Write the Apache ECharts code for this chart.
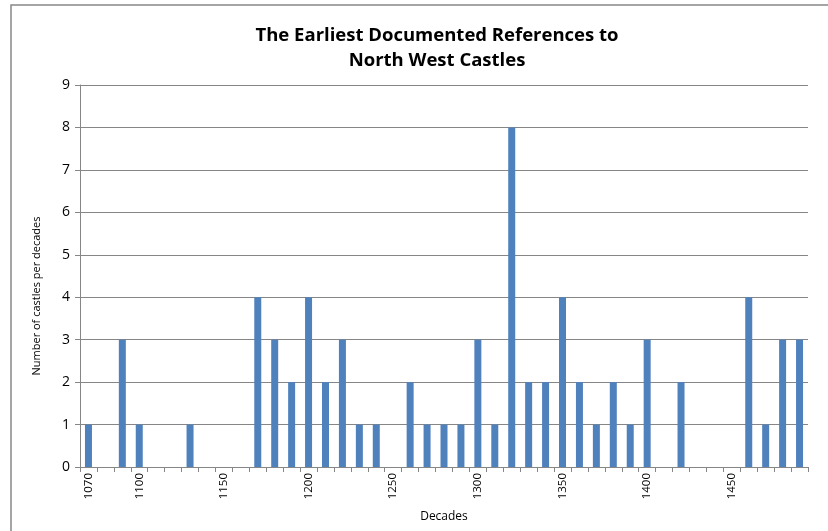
<!DOCTYPE html>
<html>
<head>
<meta charset="utf-8">
<script src="https://cdn.jsdelivr.net/npm/echarts@6/dist/echarts.min.js"></script>
<style>
html,body{margin:0;padding:0;background:#fff;}
#c{width:828px;height:531px;}
</style>
</head>
<body>
<div id="c"></div>
<script>
const decades = [1070,1080,1090,1100,1110,1120,1130,1140,1150,1160,1170,1180,1190,1200,1210,1220,1230,1240,1250,1260,1270,1280,1290,1300,1310,1320,1330,1340,1350,1360,1370,1380,1390,1400,1410,1420,1430,1440,1450,1460,1470,1480,1490];
const castles = [1,0,3,1,0,0,1,0,0,0,4,3,2,4,2,3,1,1,0,2,1,1,1,3,1,8,2,2,4,2,1,2,1,3,0,2,0,0,0,4,1,3,3];
const yTicks = [0,1,2,3,4,5,6,7,8,9];
const shownLabels = [1070,1100,1150,1200,1250,1300,1350,1400,1450];

const chart = echarts.init(document.getElementById('c'));
const FONT = '"Open Sans", "Noto Sans", sans-serif';
chart.setOption({
  animation: false,
  graphic: [{
    type: 'rect',
    shape: {x: 11, y: 5, width: 840, height: 560},
    style: {fill: 'none', stroke: '#888888', lineWidth: 1.5},
    silent: true
  }],
  title: {
    text: 'The Earliest Documented References to\nNorth West Castles',
    left: 432, top: 18, textAlign: 'center',
    textStyle: {fontFamily: FONT, fontWeight: 'bold', fontSize: 18.5, lineHeight: 25, color: '#000'}
  },
  grid: {left: 80, right: 20, top: 85, bottom: 64, containLabel: false},
  xAxis: {
    type: 'category',
    data: decades.map(String),
    name: 'Decades',
    nameLocation: 'middle',
    nameGap: 44,
    nameTextStyle: {fontFamily: FONT, fontSize: 12, color: '#000'},
    axisLine: {lineStyle: {color: '#868686', width: 1}},
    axisTick: {show: true, interval: 0, alignWithLabel: false, length: 5, lineStyle: {color: '#868686'}},
    axisLabel: {
      interval: (i, v) => shownLabels.includes(Number(v)),
      rotate: 90, fontFamily: FONT, fontSize: 11.5, color: '#000', margin: 6
    },
    splitLine: {show: false}
  },
  yAxis: {
    type: 'value',
    min: yTicks[0], max: yTicks[yTicks.length - 1], interval: 1,
    name: 'Number of castles per decades',
    nameLocation: 'middle',
    nameGap: 38,
    nameRotate: 90,
    nameTextStyle: {fontFamily: FONT, fontSize: 11, color: '#000', padding: [0, 0, 0, -40]},
    axisLine: {show: true, lineStyle: {color: '#868686', width: 1}},
    axisTick: {show: true, length: 5, lineStyle: {color: '#868686'}},
    axisLabel: {fontFamily: FONT, fontSize: 14, color: '#000', margin: 10},
    splitLine: {lineStyle: {color: '#868686', width: 1}}
  },
  series: [{
    type: 'bar',
    data: castles,
    barWidth: 7,
    itemStyle: {color: '#4F81BD'}
  }]
});
</script>
</body>
</html>
